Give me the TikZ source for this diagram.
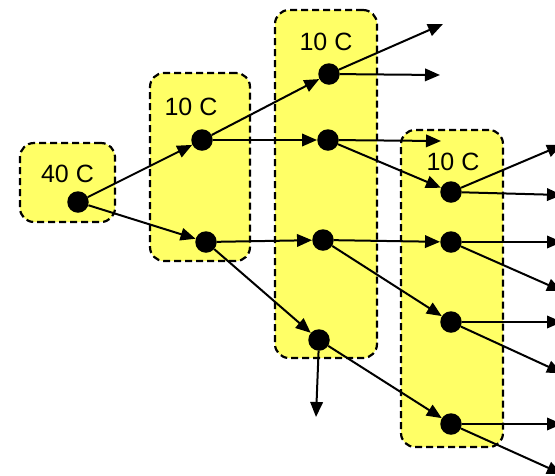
\documentclass[tikz,border=0pt]{standalone}
\usepackage{fontspec}
\setmainfont{Liberation Sans}
\usetikzlibrary{arrows.meta}
\definecolor{boxyellow}{RGB}{255,255,102}
\tikzset{
  grp/.style={draw=black, fill=boxyellow, dashed, dash pattern=on 7pt off 4pt,
    line width=2.2pt, rounded corners=14pt, inner sep=0pt, rectangle},
  lbl/.style={font=\fontsize{25}{25}\selectfont, inner sep=0pt},
  dot/.style={circle, fill=black, minimum size=21.5pt, inner sep=0pt},
  arr/.style={line width=2pt, -{Triangle[length=15pt,width=12.5pt]}},
}
\begin{document}
\begin{tikzpicture}[x=1pt,y=-1pt]
\useasboundingbox (0,0) rectangle (555,475);
\clip (0,0) rectangle (555,475);
% groups
\node[grp, minimum width=95pt, minimum height=79pt] (ga) at (67.5,182.5) {};
\node[grp, minimum width=100pt, minimum height=188pt] (gb) at (200,167) {};
\node[grp, minimum width=102pt, minimum height=348pt] (gc) at (326,184) {};
\node[grp, minimum width=102pt, minimum height=317pt] (gd) at (452,288.5) {};
% labels
\node[lbl] (la) at (67.5,174) {40 C};
\node[lbl] (lb) at (191,107) {10 C};
\node[lbl] (lc) at (326,42) {10 C};
\node[lbl] (ld) at (453,162) {10 C};
% dots
\node[dot] (a) at (78,202) {};
\node[dot] (b1) at (202,140) {};
\node[dot] (b2) at (206,242) {};
\node[dot] (c1) at (329,74) {};
\node[dot] (c2) at (328,140) {};
\node[dot] (c3) at (323,240) {};
\node[dot] (c4) at (319,340) {};
\node[dot] (d1) at (451,192) {};
\node[dot] (d2) at (451,242) {};
\node[dot] (d3) at (451,322) {};
\node[dot] (d4) at (451,424) {};
% free ends
\coordinate (c1u) at (443,24);
\coordinate (c1r) at (440,75);
\coordinate (c2r) at (441,141);
\coordinate (c4d) at (316,417);
\coordinate (d1u) at (562,145);
\coordinate (d1r) at (562,195);
\coordinate (d2r) at (562,242);
\coordinate (d2d) at (562,291);
\coordinate (d3r) at (562,322);
\coordinate (d3d) at (562,373);
\coordinate (d4r) at (562,424);
\coordinate (d4d) at (562,474);
% connectors
\draw[arr] (a) -- (b1);
\draw[arr] (a) -- (b2);
\draw[arr] (b1) -- (c1);
\draw[arr] (b1) -- (c2);
\draw[arr] (b2) -- (c3);
\draw[arr] (b2) -- (c4);
\draw[arr] (c1) -- (c1u);
\draw[arr] (c1) -- (c1r);
\draw[arr] (c2) -- (c2r);
\draw[arr] (c2) -- (d1);
\draw[arr] (c3) -- (d2);
\draw[arr] (c3) -- (d3);
\draw[arr] (c4) -- (c4d);
\draw[arr] (c4) -- (d4);
\draw[arr] (d1) -- (d1u);
\draw[arr] (d1) -- (d1r);
\draw[arr] (d2) -- (d2r);
\draw[arr] (d2) -- (d2d);
\draw[arr] (d3) -- (d3r);
\draw[arr] (d3) -- (d3d);
\draw[arr] (d4) -- (d4r);
\draw[arr] (d4) -- (d4d);
\end{tikzpicture}
\end{document}
